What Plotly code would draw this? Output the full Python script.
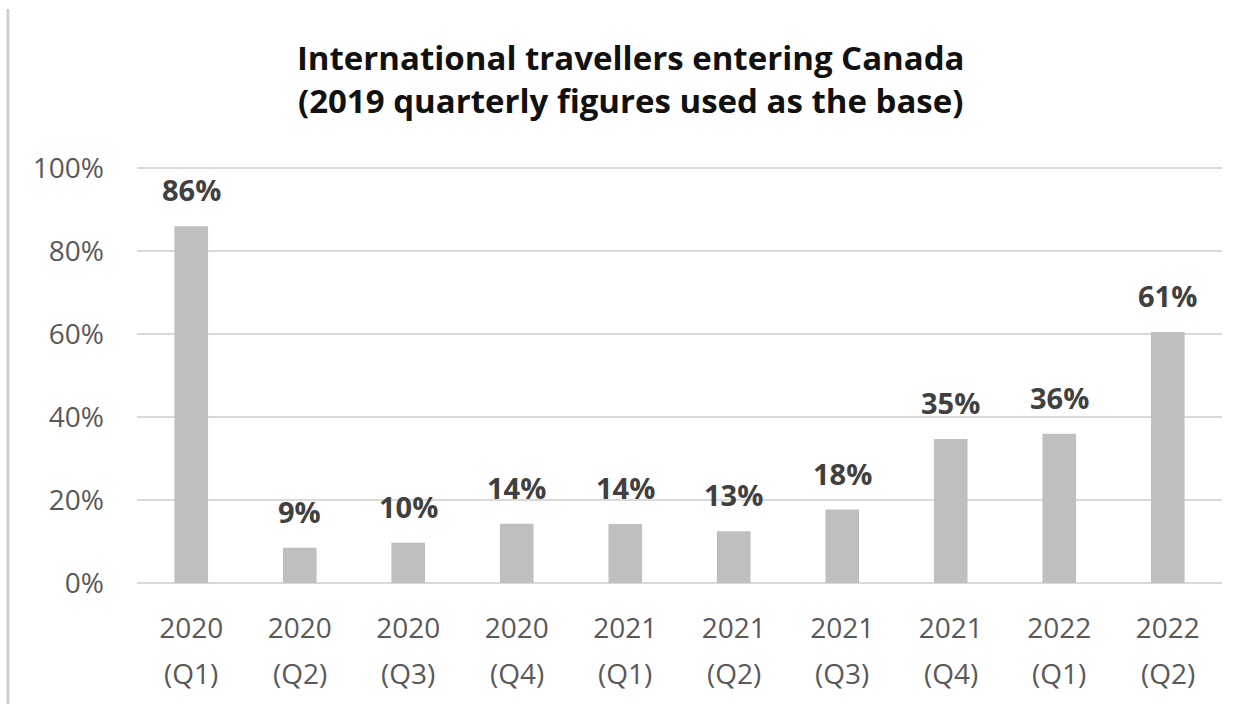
import plotly.graph_objects as go

categories = ["2020 (Q1)", "2020 (Q2)", "2020 (Q3)", "2020 (Q4)",
              "2021 (Q1)", "2021 (Q2)", "2021 (Q3)", "2021 (Q4)",
              "2022 (Q1)", "2022 (Q2)"]
years = ["2020", "2020", "2020", "2020", "2021", "2021", "2021", "2021", "2022", "2022"]
quarters = ["(Q1)", "(Q2)", "(Q3)", "(Q4)", "(Q1)", "(Q2)", "(Q3)", "(Q4)", "(Q1)", "(Q2)"]
values = [0.86, 0.085, 0.097, 0.143, 0.142, 0.125, 0.177, 0.347, 0.36, 0.605]
labels = ["86%", "9%", "10%", "14%", "14%", "13%", "18%", "35%", "36%", "61%"]
y_ticks = [0, 0.2, 0.4, 0.6, 0.8, 1.0]
y_tick_text = ["0%", "20%", "40%", "60%", "80%", "100%"]

FONT = "Open Sans"
TICK_COLOR = "#595959"

fig = go.Figure()
fig.add_trace(go.Bar(x=categories, y=values, marker_color="#bfbfbf",
                     marker_line_width=0, hoverinfo="skip"))

for c, v, t in zip(categories, values, labels):
    fig.add_annotation(x=c, y=v, text="<b>" + t + "</b>", showarrow=False,
                       yanchor="bottom", yshift=15,
                       font=dict(family=FONT, size=29, color="#404040"))

# second line of the category labels
for c, q in zip(categories, quarters):
    fig.add_annotation(x=c, y=0, yref="y", text=q, showarrow=False,
                       yanchor="middle", yshift=-90,
                       font=dict(family=FONT, size=28, color=TICK_COLOR))

fig.add_shape(type="line", xref="paper", yref="paper",
              x0=-0.119, x1=-0.119, y0=-0.3, y1=1.38,
              line=dict(color="#cfcfcf", width=3))

fig.update_layout(
    width=1244, height=704,
    margin=dict(l=137, r=22, t=167, b=121),
    paper_bgcolor="white", plot_bgcolor="white",
    showlegend=False, bargap=0.69,
    title=dict(text="<b>International travellers entering Canada<br>(2019 quarterly figures used as the base)</b>",
               x=0.507, xanchor="center", y=0.90, yanchor="top",
               font=dict(family=FONT, size=33, color="#111111")),
    font=dict(family=FONT),
)
fig.update_yaxes(range=[0, 1.003], tickvals=y_ticks, ticktext=y_tick_text,
                 showgrid=True, gridcolor="#d9d9d9", gridwidth=2,
                 zeroline=True, zerolinecolor="#d9d9d9", zerolinewidth=2,
                 ticks="", ticklabelstandoff=32,
                 tickfont=dict(family=FONT, size=28, color=TICK_COLOR))
fig.update_xaxes(showgrid=False, ticks="", ticklabelstandoff=26,
                 tickvals=categories, ticktext=years,
                 tickfont=dict(family=FONT, size=28, color=TICK_COLOR),
                 showline=False)

fig.write_html("out.html")
